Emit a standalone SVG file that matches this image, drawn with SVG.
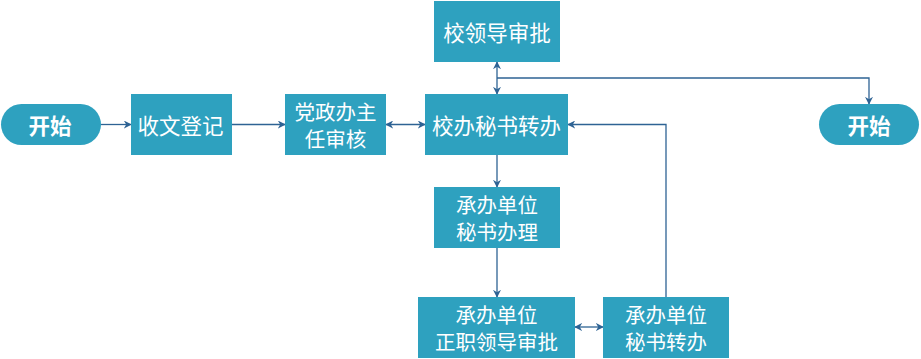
<svg xmlns="http://www.w3.org/2000/svg" width="921" height="359" viewBox="0 0 921 359">
<style>
.box{fill:#2EA1BF}
.t{fill:#fff;font-family:"Noto Sans CJK SC","Noto Sans",sans-serif;font-size:20.5px;text-anchor:middle;dominant-baseline:central}
.b{font-weight:bold;font-size:21.5px}
.c{fill:none;stroke:#2E6394;stroke-width:1.3}
</style>
<defs>
<marker id="ah" viewBox="0 0 10 10" refX="9" refY="5" markerWidth="8" markerHeight="8" markerUnits="userSpaceOnUse" orient="auto-start-reverse">
<path d="M0,0 L10,5 L0,10 L3,5 Z" fill="#2E6394"/>
</marker>
</defs>
<rect width="921" height="359" fill="#fff"/>
<g id="connectors">
<path class="c" d="M101,124.5 H131" marker-end="url(#ah)"/>
<path class="c" d="M232,124.5 H285" marker-end="url(#ah)"/>
<path class="c" d="M386,124.5 H425" marker-start="url(#ah)" marker-end="url(#ah)"/>
<path class="c" d="M497,62 V94" marker-start="url(#ah)" marker-end="url(#ah)"/>
<path class="c" d="M497,78 H869 V104" marker-end="url(#ah)"/>
<path class="c" d="M497,155 V187" marker-end="url(#ah)"/>
<path class="c" d="M497,248 V297" marker-end="url(#ah)"/>
<path class="c" d="M575,327 H603" marker-start="url(#ah)" marker-end="url(#ah)"/>
<path class="c" d="M666,297 V124.5 H568" marker-end="url(#ah)"/>
</g>
<g id="start">
<rect x="1" y="104" width="100" height="41" rx="20.5" class="box"/>
<text x="50" y="124.5" class="t b">开始</text>
</g>
<g id="register">
<rect x="131" y="94" width="101" height="61" class="box"/>
<text x="180.5" y="124.5" class="t" style="font-size:21.5px">收文登记</text>
</g>
<g id="director">
<rect x="285" y="94" width="101" height="61" class="box"/>
<text x="335.5" y="110.5" class="t">党政办主</text>
<text x="335.5" y="138" class="t">任审核</text>
</g>
<g id="office">
<rect x="425" y="94" width="143" height="61" class="box"/>
<text x="496.5" y="124.5" class="t" style="font-size:21.5px">校办秘书转办</text>
</g>
<g id="leader">
<rect x="434" y="1" width="126" height="61" class="box"/>
<text x="497" y="31.5" class="t" style="font-size:21.5px">校领导审批</text>
</g>
<g id="end">
<rect x="819" y="104" width="100" height="41" rx="20.5" class="box"/>
<text x="869" y="124.5" class="t b">开始</text>
</g>
<g id="unit-secretary">
<rect x="434" y="187" width="126" height="61" class="box"/>
<text x="497" y="203.5" class="t">承办单位</text>
<text x="497" y="231" class="t">秘书办理</text>
</g>
<g id="unit-head">
<rect x="418" y="297" width="157" height="61" class="box"/>
<text x="496.5" y="313.5" class="t">承办单位</text>
<text x="496.5" y="341" class="t">正职领导审批</text>
</g>
<g id="unit-transfer">
<rect x="603" y="297" width="126" height="61" class="box"/>
<text x="666" y="313.5" class="t">承办单位</text>
<text x="666" y="341" class="t">秘书转办</text>
</g>
</svg>
